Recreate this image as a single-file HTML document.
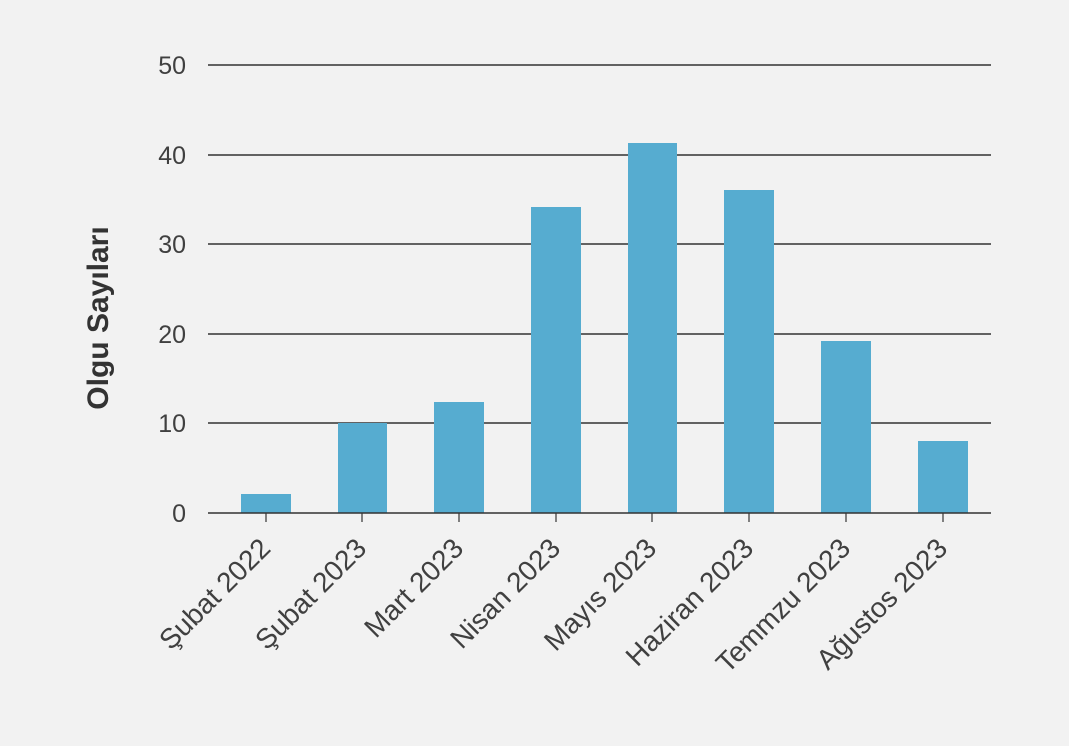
<!DOCTYPE html>
<html><head><meta charset="utf-8"><style>
html,body{margin:0;padding:0;background:#f2f2f2;}
svg{display:block;}
text{font-family:"Liberation Sans",sans-serif;fill:#404040;}
</style></head><body>
<svg width="1069" height="746" viewBox="0 0 1069 746">
<rect width="1069" height="746" fill="#f2f2f2"/>
<g stroke="#333" stroke-width="1.5">
<line x1="208" x2="991" y1="65" y2="65"/>
<line x1="208" x2="991" y1="155" y2="155"/>
<line x1="208" x2="991" y1="244" y2="244"/>
<line x1="208" x2="991" y1="334" y2="334"/>
<line x1="208" x2="991" y1="423" y2="423"/>
</g>
<g fill="#56acd0">
<rect x="241" y="494" width="50" height="19"/>
<rect x="338" y="423" width="49" height="90"/>
<rect x="434" y="402" width="50" height="111"/>
<rect x="531" y="207" width="50" height="306"/>
<rect x="628" y="143" width="49" height="370"/>
<rect x="724" y="190" width="50" height="323"/>
<rect x="821" y="341" width="50" height="172"/>
<rect x="918" y="441" width="50" height="72"/>
</g>
<line x1="208" x2="991" y1="513" y2="513" stroke="#333" stroke-width="1.5"/>
<g stroke="#333" stroke-width="1.2">
<line x1="266" x2="266" y1="513" y2="522"/>
<line x1="362" x2="362" y1="513" y2="522"/>
<line x1="459" x2="459" y1="513" y2="522"/>
<line x1="556" x2="556" y1="513" y2="522"/>
<line x1="652" x2="652" y1="513" y2="522"/>
<line x1="749" x2="749" y1="513" y2="522"/>
<line x1="846" x2="846" y1="513" y2="522"/>
<line x1="943" x2="943" y1="513" y2="522"/>
</g>
<g font-size="25" text-anchor="end">
<text x="186" y="74">50</text>
<text x="186" y="164">40</text>
<text x="186" y="253">30</text>
<text x="186" y="343">20</text>
<text x="186" y="432">10</text>
<text x="186" y="522">0</text>
</g>
<g font-size="28" text-anchor="end">
<text transform="translate(272,550) rotate(-45)">Şubat 2022</text>
<text transform="translate(368,550) rotate(-45)">Şubat 2023</text>
<text transform="translate(465,550) rotate(-45)">Mart 2023</text>
<text transform="translate(562,550) rotate(-45)">Nisan 2023</text>
<text transform="translate(658,550) rotate(-45)">Mayıs 2023</text>
<text transform="translate(755,550) rotate(-45)">Haziran 2023</text>
<text transform="translate(852,550) rotate(-45)">Temmzu 2023</text>
<text transform="translate(949,550) rotate(-45)">Ağustos 2023</text>
</g>
<text transform="translate(108,318) rotate(-90)" font-size="30" font-weight="bold" text-anchor="middle" style="fill:#333">Olgu Sayıları</text>
</svg>
</body></html>
